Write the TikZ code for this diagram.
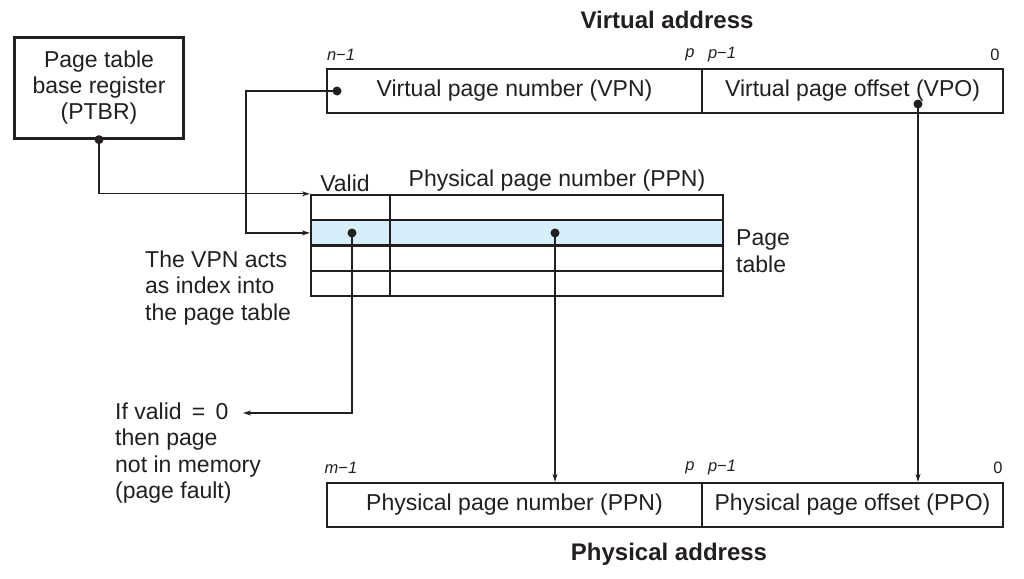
\documentclass[tikz,border=0pt]{standalone}
\usepackage{fontspec}
\setmainfont{Liberation Sans}
\usetikzlibrary{arrows.meta}
\definecolor{ink}{HTML}{231F20}
\definecolor{rowblue}{HTML}{D5EEF9}
\tikzset{
  box/.style={draw=ink, line width=2.3pt, inner sep=0pt, text=ink, font=\fontsize{23}{26}\selectfont},
  cell/.style={draw=ink, line width=2.3pt, inner sep=0pt, minimum height=25.3pt},
  conn/.style={draw=ink, line width=1.2pt},
  arr/.style={conn, -{Stealth[length=8pt,width=5pt]}},
  lbl/.style={text=ink, inner sep=0pt, font=\fontsize{23}{26.5}\selectfont},
  small/.style={text=ink, inner sep=0pt, font=\fontsize{16.5}{18}\selectfont\itshape},
  title/.style={text=ink, inner sep=0pt, font=\fontsize{24}{26}\selectfont\bfseries},
  dot/.style={circle, fill=ink, inner sep=0pt, minimum size=9pt}
}
\begin{document}
\begin{tikzpicture}[x=1pt,y=-1pt]
\useasboundingbox (0,0) rectangle (1024,578);

% PTBR
\node[box, minimum width=169pt, minimum height=101pt, align=center] (ptbr) at (99,88)
  {Page table\\base register\\(PTBR)};

% Virtual address
\node[title] (vatitle) at (667,20) {Virtual address};
\node[box, minimum width=375pt, minimum height=44pt] (vpn) at (514.5,91) {Virtual page number (VPN)};
\node[box, minimum width=301pt, minimum height=44pt] (vpo) at (852.5,91) {Virtual page offset (VPO)};
\node[small] (vn) at (341,55) {n{\upshape −}1};
\node[small] (vp) at (690,55) {p};
\node[small] (vp1) at (722,55) {p{\upshape −}1};
\node[small] (v0) at (995,55) {\upshape 0};

% Page table
\node[cell, minimum width=79pt] (v1) at (350.5,207.6) {};
\node[cell, minimum width=333pt] (p1) at (556.5,207.6) {};
\node[cell, minimum width=79pt, fill=rowblue] (v2) at (350.5,232.9) {};
\node[cell, minimum width=333pt, fill=rowblue] (p2) at (556.5,232.9) {};
\node[cell, minimum width=79pt] (v3) at (350.5,258.2) {};
\node[cell, minimum width=333pt] (p3) at (556.5,258.2) {};
\node[cell, minimum width=79pt] (v4) at (350.5,283.5) {};
\node[cell, minimum width=333pt] (p4) at (556.5,283.5) {};
\node[lbl] (validlbl) at (345,183) {Valid};
\node[lbl] (ppnlbl) at (557,181) {Physical page number (PPN)};
\node[lbl, anchor=west, align=left] (ptlbl) at (736,251) {Page\\table};
\node[lbl, anchor=west, align=left] (vpnidx) at (145,288) {The VPN acts\\as index into\\the page table};

% Physical address
\node[box, minimum width=375pt, minimum height=44pt] (ppn) at (514.5,505) {Physical page number (PPN)};
\node[box, minimum width=301pt, minimum height=44pt] (ppo) at (852.5,505) {Physical page offset (PPO)};
\node[small] (pm) at (341,468) {m{\upshape −}1};
\node[small] (pp) at (690,468) {p};
\node[small] (pp1) at (722,468) {p{\upshape −}1};
\node[small] (p0) at (998,468) {\upshape 0};
\node[title] (patitle) at (669,554) {Physical address};

% Fault text
\node[lbl, anchor=west, align=left] (fault) at (115,453) {If valid \,=\, 0\\then page\\not in memory\\(page fault)};
\coordinate (faulttip) at (243,413);

% dots
\node[dot] (ptbrdot) at (ptbr.south) {};
\node[dot] (vpndot) at (337,91) {};
\node[dot] (vpodot) at (918,104) {};
\node[dot] (valdot) at (352,233) {};
\node[dot] (ppndot) at (555,233) {};
\coordinate (vbend) at (246,91);
\coordinate (faultbend) at (352,413);

% connectors
\draw[arr] (ptbrdot.center) |- (v1.north west);
\draw[arr] (vpndot.center) -- (vbend) |- (v2.west);
\draw[arr] (vpodot.center) -- (vpodot.center |- ppo.north);
\draw[arr] (ppndot.center) -- (ppndot.center |- ppn.north);
\draw[arr] (valdot.center) -- (faultbend) -- (faulttip);
\end{tikzpicture}
\end{document}
